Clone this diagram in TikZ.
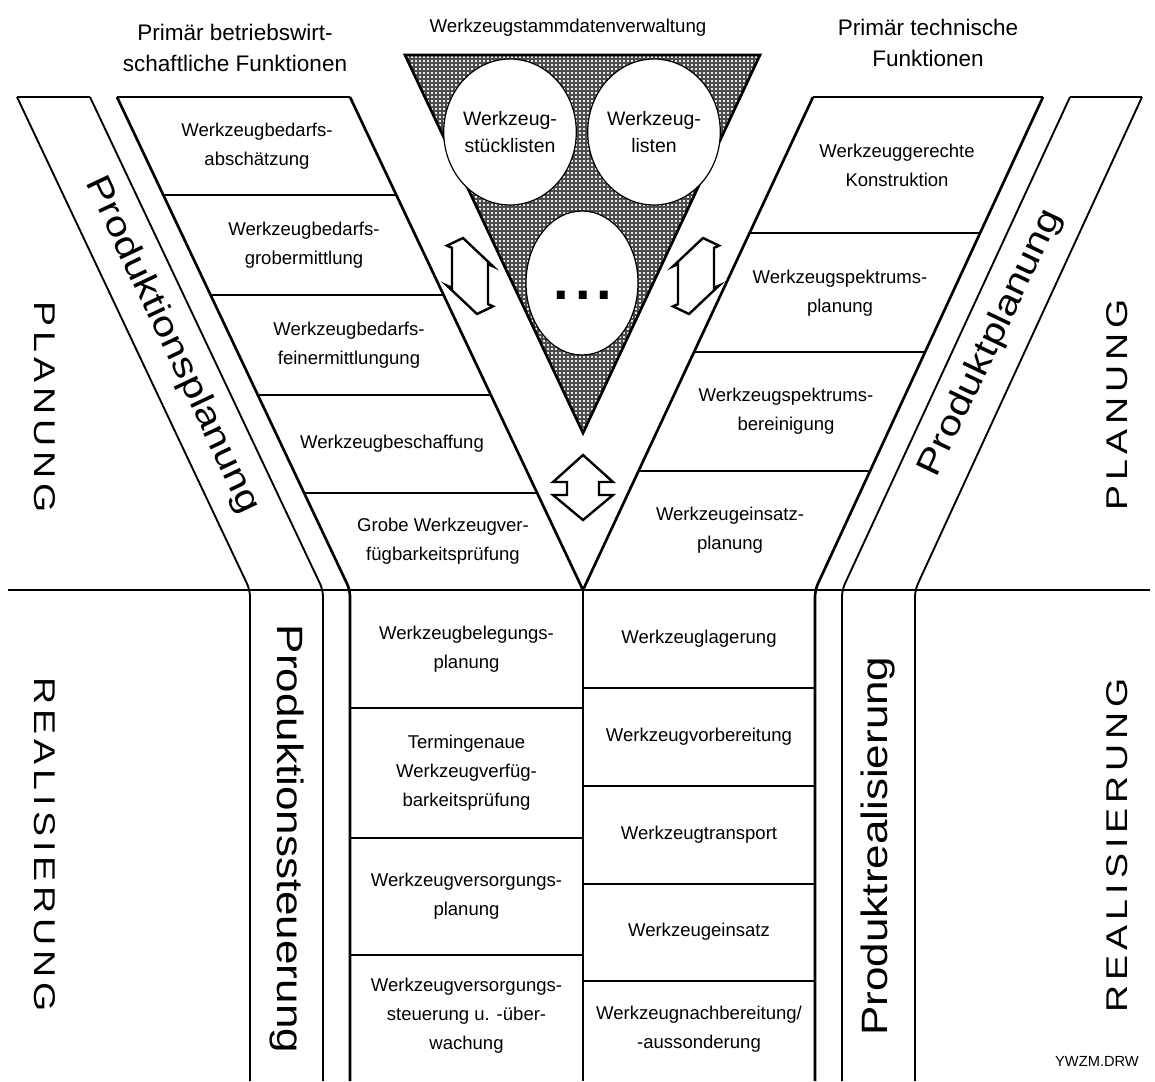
\documentclass[tikz,border=0pt]{standalone}
\usepackage{fontspec}
\setmainfont{Liberation Sans}
\newfontfamily\widefont[FakeStretch=1.2]{Liberation Sans}
\newfontfamily\phasefont[FakeStretch=1.25]{Liberation Sans}
\usetikzlibrary{patterns,shapes.geometric}

% fine square mesh used for the master-data triangle
\pgfdeclarepatternformonly{mesh}{\pgfqpoint{-0.5pt}{-0.5pt}}{\pgfqpoint{3.5pt}{3.5pt}}{\pgfqpoint{3pt}{3pt}}{%
  \pgfsetlinewidth{0.8pt}%
  \pgfpathmoveto{\pgfqpoint{-0.5pt}{1.5pt}}\pgfpathlineto{\pgfqpoint{3.5pt}{1.5pt}}%
  \pgfpathmoveto{\pgfqpoint{1.5pt}{-0.5pt}}\pgfpathlineto{\pgfqpoint{1.5pt}{3.5pt}}%
  \pgfusepath{stroke}}

\begin{document}
\begin{tikzpicture}[x=0.75pt, y=-0.75pt,
  heavy/.style={line width=2pt, line join=miter},
  bandline/.style={line width=1.4pt, rounded corners=5pt},
  frameline/.style={line width=2pt, rounded corners=5pt},
  divider/.style={line width=1.1pt},
  boxtext/.style={font=\fontsize{13.9pt}{21.75pt}\selectfont, align=center, inner sep=0pt},
  headtext/.style={font=\fontsize{16.9pt}{23pt}\selectfont, align=center, inner sep=0pt},
  bandtext/.style={font=\widefont\fontsize{26pt}{30pt}\selectfont, inner sep=0pt},
  lowbandtext/.style={font=\widefont\fontsize{27.5pt}{30pt}\selectfont, inner sep=0pt},
  phasetext/.style={font=\phasefont\fontsize{22.5pt}{26pt}\selectfont, inner sep=0pt},
  listoval/.style={ellipse, draw, fill=white, line width=0.9pt, inner sep=0pt,
    font=\fontsize{14.6pt}{20pt}\selectfont, align=center},
  linkarrow/.style={draw, fill=white, line width=1.8pt, line join=miter},
]
\useasboundingbox (0,0) rectangle (1155,1081);

% ---------- phase separator ----------
\draw[divider] (8,590) -- (1150,590);
\draw[heavy] (350,590) -- (815,590);

% ---------- left: production planning / control band ----------
\draw[bandline] (17,97) -- (250,590) -- (250,1081);
\draw[bandline] (90,97) -- (323,590) -- (323,1081);
\draw[line width=1.4pt] (17,97) -- (90,97);

% ---------- left block: business functions ----------
\draw[heavy] (117,97) -- (350,97);
\draw[frameline] (117,97) -- (350,590) -- (350,1081);
\draw[heavy] (350,97) -- (583,590) -- (813,97);
\draw[heavy] (583,590) -- (583,1081);
\draw[divider] (163.3,195) -- (396.3,195);
\draw[divider] (210.6,295) -- (443.6,295);
\draw[divider] (257.8,395) -- (490.8,395);
\draw[divider] (304.2,493) -- (537.2,493);

% ---------- right block: technical functions ----------
\draw[heavy] (813,97) -- (1043,97);
\draw[frameline] (1043,97) -- (815,590) -- (815,1081);
\draw[divider] (749.5,233) -- (980.1,233);
\draw[divider] (694.0,352) -- (925.1,352);
\draw[divider] (638.5,471) -- (870.0,471);

% ---------- right: product planning / realisation band ----------
\draw[bandline] (1070,97) -- (842,590) -- (842,1081);
\draw[bandline] (1142,97) -- (915,590) -- (915,1081);
\draw[line width=1.4pt] (1070,97) -- (1142,97);

% ---------- lower columns ----------
\draw[divider] (350,708) -- (583,708);
\draw[divider] (350,838) -- (583,838);
\draw[divider] (350,955) -- (583,955);
\draw[divider] (583,688) -- (815,688);
\draw[divider] (583,786) -- (815,786);
\draw[divider] (583,884) -- (815,884);
\draw[divider] (583,981) -- (815,981);

% ---------- master data triangle ----------
\draw[heavy, preaction={fill=gray!18}, pattern=mesh, pattern color=black!70]
  (405,55) -- (760,55) -- (583,433) -- cycle;
\node[listoval, minimum width=85.5pt, minimum height=109.5pt] (stl) at (510,132) {Werkzeug-\\stücklisten};
\node[listoval, minimum width=84pt, minimum height=109.5pt] (wzl) at (654,132) {Werkzeug-\\listen};
\node[listoval, minimum width=84pt, minimum height=108pt] (more) at (582,283) {};
\node[anchor=base, inner sep=0pt, font=\fontsize{42pt}{42pt}\selectfont\bfseries] (dots) at (583,299) {.\kern4.5pt.\kern4.5pt.};

% ---------- exchange arrows ----------
\draw[linkarrow] (463,238) -- (493,266.35) -- (488,264.1) -- (488,304.1) -- (493,306.35)
  -- (477,314) -- (447,285.65) -- (452,287.9) -- (452,247.9) -- (447,245.65) -- cycle;
\draw[linkarrow] (703,238) -- (673,266.35) -- (678,264.1) -- (678,304.1) -- (673,306.35)
  -- (689,314) -- (719,285.65) -- (714,287.9) -- (714,247.9) -- (719,245.65) -- cycle;
\draw[linkarrow] (583,455) -- (613,482) -- (599,482) -- (599,495) -- (613,495) -- (583,520)
  -- (553,495) -- (567,495) -- (567,482) -- (553,482) -- cycle;

% ---------- headings ----------
\node[headtext] (hbw) at (235,48) {Primär betriebswirt-\\schaftliche Funktionen};
\node[headtext] (htf) at (928,43) {Primär technische\\Funktionen};
\node[inner sep=0pt, font=\fontsize{14pt}{18pt}\selectfont] (hsd) at (568,28) {Werkzeugstammdatenverwaltung};

% ---------- upper left boxes ----------
\node[boxtext] (b1) at (257,146) {Werkzeugbedarfs-\\abschätzung};
\node[boxtext] (b2) at (304,245) {Werkzeugbedarfs-\\grobermittlung};
\node[boxtext] (b3) at (349,345) {Werkzeugbedarfs-\\feinermittlungung};
\node[boxtext] (b4) at (392,444) {Werkzeugbeschaffung};
\node[boxtext] (b5) at (443,541) {Grobe Werkzeugver-\\fügbarkeitsprüfung};

% ---------- upper right boxes ----------
\node[boxtext] (r1) at (897,165) {Werkzeuggerechte\\Konstruktion};
\node[boxtext] (r2) at (840,293) {Werkzeugspektrums-\\planung};
\node[boxtext] (r3) at (786,411) {Werkzeugspektrums-\\bereinigung};
\node[boxtext] (r4) at (730,530) {Werkzeugeinsatz-\\planung};

% ---------- lower left boxes ----------
\node[boxtext] (p1) at (466.5,649) {Werkzeugbelegungs-\\planung};
\node[boxtext] (p2) at (466.5,773) {Termingenaue\\Werkzeugverfüg-\\barkeitsprüfung};
\node[boxtext] (p3) at (466.5,896) {Werkzeugversorgungs-\\planung};
\node[boxtext] (p4) at (466.5,1016) {Werkzeugversorgungs-\\steuerung u. -über-\\wachung};

% ---------- lower right boxes ----------
\node[boxtext] (q1) at (699,639) {Werkzeuglagerung};
\node[boxtext] (q2) at (699,737) {Werkzeugvorbereitung};
\node[boxtext] (q3) at (699,835) {Werkzeugtransport};
\node[boxtext] (q4) at (699,932) {Werkzeugeinsatz};
\node[boxtext] (q5) at (699,1029) {Werkzeugnachbereitung/\\-aussonderung};

% ---------- band labels ----------
\node[bandtext, rotate=-64.7] (lpp) at (172,345) {Produktionsplanung};
\node[bandtext, rotate=64.5] (lpr) at (991,343) {Produktplanung};
\node[lowbandtext, rotate=-90] (lps) at (286.5,839) {Produktionssteuerung};
\node[lowbandtext, rotate=90] (lrs) at (878.5,846) {Produktrealisierung};

% ---------- phase labels ----------
\node[phasetext, rotate=-90] (plL) at (45,407) {P\,L\,A\,N\,U\,N\,G};
\node[phasetext, rotate=-90] (reL) at (45,845) {R\,E\,A\,L\,I\,S\,I\,E\,R\,U\,N\,G};
\node[phasetext, rotate=90] (plR) at (1117,405) {P\,L\,A\,N\,U\,N\,G};
\node[phasetext, rotate=90] (reR) at (1117,845) {R\,E\,A\,L\,I\,S\,I\,E\,R\,U\,N\,G};

\node[inner sep=0pt, font=\fontsize{11pt}{13pt}\selectfont] (file) at (1097,1061) {YWZM.DRW};
\end{tikzpicture}
\end{document}
